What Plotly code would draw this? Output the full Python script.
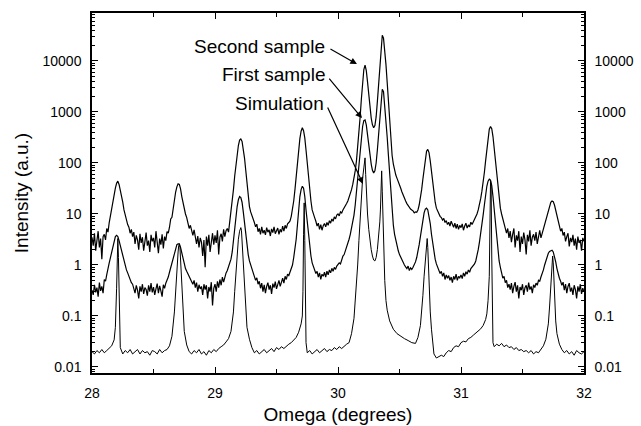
import numpy as np
import plotly.graph_objects as go

# ---------------- data ----------------
x_start = 28.0
x_step = 0.01

second_sample = [
    3.5, 2.4, 4.2, 1.9, 3.0, 4.6, 2.2, 3.3, 1.3, 3.6,          # 28.00
    4.0, 3.1, 5.2, 4.4, 6.8, 9.5, 12, 17, 24, 32,              # 28.10
    40, 44, 38, 30, 23, 17, 12, 9.5, 8.0, 6.2,                 # 28.20
    5.5, 4.2, 5.0, 3.6, 4.4, 2.6, 3.8, 3.1, 2.0, 4.1,          # 28.30
    2.7, 3.5, 1.9, 3.2, 4.3, 2.4, 3.0, 1.8, 3.9, 2.9,          # 28.40
    3.4, 2.2, 4.6, 2.8, 1.7, 3.3, 2.5, 4.0, 2.1, 3.6,          # 28.50
    3.0, 4.5, 4.2, 5.5, 8.0, 8.6, 13, 19, 27, 34,              # 28.60
    39, 38, 31, 22, 17, 12, 10, 8.5, 6.8, 5.2,                 # 28.70
    6.0, 4.4, 3.8, 4.9, 3.2, 2.6, 3.7, 2.2, 3.4, 2.8,          # 28.80
    1.5, 3.1, 0.9, 3.6, 2.4, 3.9, 1.8, 3.0, 4.2, 2.5,          # 28.90
    3.8, 2.7, 4.8, 1.6, 3.5, 4.1, 2.9, 5.0, 3.6, 4.7,          # 29.00
    5.2, 4.4, 7.0, 10, 16, 30, 55, 95, 150, 220,               # 29.10
    280, 295, 265, 195, 125, 72, 40, 22, 14, 11,               # 29.20
    9.0, 7.5, 6.8, 5.6, 6.3, 4.5, 5.2, 4.0, 5.6, 4.2,          # 29.30
    4.8, 3.9, 5.4, 4.4, 4.9, 3.7, 5.1, 4.3, 5.6, 4.1,          # 29.40
    4.7, 5.3, 4.0, 5.0, 4.4, 5.8, 4.6, 6.0, 5.2, 6.4,          # 29.50
    6.8, 7.3, 9.0, 12, 18, 30, 55, 100, 180, 300,              # 29.60
    420, 490, 430, 310, 180, 95, 50, 28, 18, 12,               # 29.70
    9.5, 8.5, 7.2, 5.8, 6.6, 5.0, 6.2, 4.8, 5.9, 6.5,          # 29.80
    5.6, 6.8, 6.0, 7.4, 6.6, 8.0, 7.2, 8.8, 8.0, 9.5,          # 29.90
    10, 9.2, 11, 10.5, 12, 13, 14.5, 16, 18, 21,               # 30.00
    25, 30, 38, 50, 70, 110, 200, 380, 800, 1800,              # 30.10
    3800, 6800, 8300, 6500, 3900, 2100, 1200, 760, 560, 490,   # 30.20
    540, 800, 1600, 3800, 9000, 20000, 32000, 28000, 17000, 8500,  # 30.30
    3800, 1500, 600, 260, 140, 95, 72, 58, 50, 44,             # 30.40
    38, 32, 27, 23, 20, 18, 16, 14.5, 13, 12.5,                # 30.50
    12, 11.5, 10.5, 11, 10.8, 12, 15, 20, 30, 48,              # 30.60
    75, 120, 170, 185, 160, 110, 65, 38, 24, 17,               # 30.70
    13, 11.5, 10, 9.0, 8.5, 7.6, 8.2, 6.8, 7.4, 6.2,           # 30.80
    6.9, 5.8, 7.2, 6.0, 5.5, 6.6, 5.2, 6.3, 5.0, 6.0,          # 30.90
    5.4, 6.4, 4.8, 5.8, 6.6, 5.3, 6.1, 5.6, 6.9, 6.2,          # 31.00
    7.0, 7.8, 8.4, 10, 12, 15, 20, 28, 40, 65,                 # 31.10
    110, 190, 330, 460, 520, 470, 330, 190, 100, 55,           # 31.20
    30, 18, 13, 10, 8.0, 6.4, 5.5, 4.2, 5.2, 3.4,              # 31.30
    4.6, 2.8, 4.0, 5.2, 2.2, 3.8, 3.0, 4.6, 1.8, 3.6,          # 31.40
    2.6, 4.3, 3.1, 1.6, 3.9, 2.9, 4.8, 2.4, 3.5, 4.0,          # 31.50
    3.0, 4.4, 2.6, 3.7, 4.8, 3.4, 4.2, 5.0, 6.0, 8.0,          # 31.60
    10, 12.5, 15, 17, 18, 17.5, 15, 12, 9.0, 7.0,              # 31.70
    5.8, 4.6, 5.2, 3.8, 4.4, 2.9, 3.6, 4.2, 2.3, 3.4,          # 31.80
    2.8, 3.9, 2.4, 3.3, 2.0, 3.6, 2.7, 3.1, 1.9, 3.4,          # 31.90
    2.9,                                                       # 32.00
]

first_sample = [
    0.32, 0.26, 0.41, 0.29, 0.36, 0.24, 0.45, 0.31, 0.38, 0.28,   # 28.00
    0.52, 0.48, 0.65, 0.8, 1.1, 1.4, 1.8, 2.5, 3.1, 3.6,          # 28.10
    3.8, 3.6, 3.0, 2.4, 1.8, 1.5, 1.1, 0.95, 0.8, 0.7,            # 28.20
    0.6, 0.52, 0.45, 0.42, 0.35, 0.28, 0.4, 0.32, 0.22, 0.38,     # 28.30
    0.3, 0.42, 0.27, 0.36, 0.33, 0.25, 0.4, 0.3, 0.44, 0.29,      # 28.40
    0.37, 0.26, 0.34, 0.43, 0.28, 0.39, 0.31, 0.24, 0.41, 0.35,   # 28.50
    0.44, 0.5, 0.58, 0.72, 0.9, 1.1, 1.4, 1.8, 2.2, 2.5,          # 28.60
    2.6, 2.6, 2.2, 1.7, 1.3, 1.0, 0.85, 0.75, 0.66, 0.6,          # 28.70
    0.55, 0.48, 0.42, 0.5, 0.36, 0.45, 0.3, 0.41, 0.34, 0.38,     # 28.80
    0.26, 0.42, 0.33, 0.4, 0.22, 0.37, 0.3, 0.46, 0.16, 0.35,     # 28.90
    0.42, 0.3, 0.48, 0.36, 0.52, 0.4, 0.58, 0.46, 0.62, 0.7,      # 29.00
    0.78, 0.9, 1.05, 1.3, 1.8, 3.2, 5.5, 9.0, 14, 19,             # 29.10
    22, 21, 17, 11, 6.5, 3.8, 2.3, 1.6, 1.2, 1.0,                 # 29.20
    0.85, 0.7, 0.62, 0.5, 0.56, 0.42, 0.48, 0.35, 0.44, 0.3,      # 29.30
    0.41, 0.28, 0.38, 0.45, 0.33, 0.4, 0.27, 0.43, 0.36, 0.47,    # 29.40
    0.34, 0.42, 0.5, 0.38, 0.46, 0.55, 0.44, 0.6, 0.52, 0.66,     # 29.50
    0.62, 0.75, 0.85, 1.0, 1.4, 2.0, 3.2, 6.0, 12, 22,            # 29.60
    30, 35, 32, 22, 12, 6.5, 3.6, 2.2, 1.5, 1.1,                  # 29.70
    0.95, 0.8, 0.68, 0.75, 0.58, 0.7, 0.52, 0.66, 0.6, 0.72,      # 29.80
    0.58, 0.76, 0.64, 0.8, 0.7, 0.86, 0.75, 0.9, 0.82, 0.95,      # 29.90
    1.0, 1.1, 1.05, 1.3, 1.5, 1.6, 1.9, 2.1, 2.6, 3.2,            # 30.00
    4.0, 5.2, 6.8, 9.5, 15, 28, 50, 85, 150, 300,                 # 30.10
    520, 680, 700, 560, 340, 200, 130, 95, 72, 64,                # 30.20
    70, 100, 180, 380, 800, 1600, 2800, 2500, 1400, 700,          # 30.30
    320, 140, 60, 22, 10, 6.0, 4.0, 3.0, 2.3, 1.9,                # 30.40
    1.6, 1.4, 1.25, 1.1, 1.0, 0.92, 0.85, 0.95, 0.78, 0.88,       # 30.50
    0.82, 0.9, 1.0, 1.15, 1.4, 1.8, 2.5, 3.6, 5.5, 8.0,           # 30.60
    10.5, 12.5, 13, 12, 9.5, 6.5, 4.0, 2.6, 1.8, 1.3,             # 30.70
    1.05, 0.9, 0.8, 0.68, 0.75, 0.6, 0.7, 0.52, 0.64, 0.55,       # 30.80
    0.62, 0.5, 0.58, 0.45, 0.6, 0.52, 0.66, 0.5, 0.6, 0.56,       # 30.90
    0.64, 0.54, 0.7, 0.6, 0.74, 0.66, 0.8, 0.72, 0.85, 0.9,       # 31.00
    0.95, 1.05, 1.2, 1.5, 2.0, 2.8, 4.0, 6.0, 9.5, 15,            # 31.10
    24, 35, 44, 48, 46, 36, 22, 12, 6.0, 3.2,                     # 31.20
    1.8, 1.2, 0.9, 0.7, 0.55, 0.6, 0.45, 0.5, 0.36, 0.42,         # 31.30
    0.33, 0.44, 0.28, 0.38, 0.46, 0.3, 0.4, 0.22, 0.37, 0.32,     # 31.40
    0.42, 0.26, 0.36, 0.4, 0.3, 0.45, 0.33, 0.38, 0.28, 0.41,     # 31.50
    0.36, 0.44, 0.4, 0.5, 0.48, 0.58, 0.66, 0.8, 1.0, 1.25,       # 31.60
    1.5, 1.7, 1.85, 1.9, 1.95, 1.8, 1.5, 1.15, 0.85, 0.65,        # 31.70
    0.55, 0.48, 0.4, 0.46, 0.32, 0.42, 0.28, 0.38, 0.44, 0.3,     # 31.80
    0.36, 0.26, 0.4, 0.33, 0.22, 0.38, 0.3, 0.42, 0.27, 0.35,     # 31.90
    0.3,                                                          # 32.00
]

sim_x = [
    28.00, 28.02, 28.04, 28.06, 28.08, 28.10, 28.12, 28.14, 28.16, 28.18, 28.19, 28.20, 28.205, 28.21, 28.215, 28.22, 28.225, 28.23,
    28.25, 28.27, 28.29, 28.31, 28.33, 28.35, 28.37, 28.39, 28.41, 28.43, 28.45, 28.47, 28.49, 28.51, 28.53, 28.55, 28.57, 28.59, 28.61,
    28.63, 28.65, 28.67, 28.68, 28.69, 28.70, 28.705, 28.71, 28.715, 28.72, 28.73, 28.74, 28.75, 28.77, 28.79,
    28.81, 28.83, 28.85, 28.87, 28.89, 28.91, 28.93, 28.95, 28.97, 28.99, 29.01, 29.03, 29.05, 29.07, 29.09, 29.11, 29.13,
    29.15, 29.16, 29.17, 29.18, 29.19, 29.20, 29.205, 29.21, 29.215, 29.22, 29.23, 29.24, 29.25, 29.26, 29.28, 29.30,
    29.32, 29.34, 29.36, 29.38, 29.40, 29.42, 29.44, 29.46, 29.48, 29.50, 29.52, 29.54, 29.56, 29.58, 29.60, 29.62, 29.64, 29.66, 29.68, 29.70,
    29.71, 29.715, 29.72, 29.725, 29.73, 29.735, 29.74, 29.75, 29.77,
    29.79, 29.81, 29.83, 29.85, 29.87, 29.89, 29.91, 29.93, 29.95, 29.97, 29.99, 30.01, 30.03, 30.05, 30.07, 30.09, 30.11, 30.13,
    30.14, 30.15, 30.16, 30.17, 30.18, 30.19, 30.20, 30.21, 30.215, 30.22, 30.225, 30.23, 30.24, 30.25, 30.26, 30.27, 30.28, 30.29, 30.30,
    30.31, 30.32, 30.33, 30.34, 30.345, 30.35, 30.355, 30.36, 30.365, 30.37, 30.38, 30.39, 30.40, 30.42,
    30.45, 30.48, 30.51, 30.54, 30.57, 30.60, 30.63, 30.65, 30.67, 30.68, 30.69, 30.70, 30.71, 30.72, 30.725, 30.73, 30.735, 30.74, 30.75, 30.76, 30.77, 30.78,
    30.80, 30.82, 30.84, 30.86, 30.88, 30.90, 30.92, 30.94, 30.96, 30.98, 31.00, 31.02, 31.04, 31.06, 31.08, 31.10, 31.12, 31.14, 31.16, 31.18, 31.20,
    31.21, 31.22, 31.23, 31.235, 31.24, 31.245, 31.25, 31.255, 31.26, 31.27,
    31.29, 31.31, 31.33, 31.35, 31.37, 31.39, 31.41, 31.43, 31.45, 31.47, 31.49, 31.51, 31.53, 31.55, 31.57, 31.59, 31.61, 31.63, 31.65, 31.67, 31.69,
    31.71, 31.72, 31.73, 31.74, 31.745, 31.75, 31.755, 31.76, 31.77, 31.78, 31.80,
    31.82, 31.84, 31.86, 31.88, 31.90, 31.92, 31.94, 31.96, 31.98, 32.00,
]

sim_y = [
    0.020, 0.018, 0.021, 0.019, 0.022, 0.019, 0.021, 0.023, 0.026, 0.034, 0.06, 0.35, 1.8, 3.3, 1.4, 0.15, 0.04, 0.024,
    0.018, 0.021, 0.019, 0.022, 0.018, 0.020, 0.022, 0.018, 0.021, 0.019, 0.020, 0.017, 0.021, 0.020, 0.018, 0.022, 0.019, 0.021, 0.022,
    0.026, 0.04, 0.12, 0.35, 0.9, 1.8, 2.4, 2.6, 2.2, 1.2, 0.4, 0.12, 0.05, 0.027, 0.020,
    0.018, 0.021, 0.019, 0.022, 0.018, 0.020, 0.017, 0.021, 0.019, 0.022, 0.020, 0.023, 0.025, 0.027, 0.031, 0.036, 0.05,
    0.12, 0.3, 0.8, 1.8, 3.2, 4.6, 5.2, 5.4, 4.8, 3.0, 1.0, 0.35, 0.12, 0.06, 0.035, 0.024,
    0.019, 0.021, 0.018, 0.020, 0.022, 0.019, 0.021, 0.023, 0.020, 0.024, 0.022, 0.025, 0.023, 0.026, 0.028, 0.03, 0.034, 0.038, 0.048, 0.07,
    0.1, 0.3, 4.0, 16.5, 3.0, 0.1, 0.03, 0.019, 0.021,
    0.018, 0.020, 0.022, 0.019, 0.021, 0.023, 0.020, 0.022, 0.021, 0.024, 0.022, 0.025, 0.023, 0.026, 0.028, 0.03, 0.045, 0.09,
    0.18, 0.45, 1.0, 3.0, 9.0, 25, 50, 80, 110, 126, 60, 25, 10, 5.0, 2.9, 2.0, 1.5, 1.25, 1.2,
    1.4, 2.0, 3.5, 7.0, 12, 30, 70, 28, 9, 2.5, 0.5, 0.2, 0.13, 0.08,
    0.055, 0.045, 0.04, 0.036, 0.033, 0.03, 0.029, 0.038, 0.065, 0.11, 0.25, 0.6, 1.1, 1.8, 3.3, 2.2, 0.9, 0.35, 0.12, 0.055, 0.028, 0.018,
    0.015, 0.016, 0.017, 0.016, 0.019, 0.021, 0.02, 0.024, 0.026, 0.025, 0.03, 0.032, 0.031, 0.036, 0.038, 0.042, 0.046, 0.05, 0.056, 0.065, 0.085,
    0.11, 0.2, 0.6, 5.0, 45, 35, 1.5, 0.08, 0.03, 0.025,
    0.028, 0.026, 0.029, 0.025, 0.027, 0.024, 0.025, 0.022, 0.024, 0.021, 0.022, 0.020, 0.021, 0.019, 0.021, 0.018, 0.020, 0.019, 0.022, 0.026, 0.035,
    0.07, 0.15, 0.4, 1.0, 1.5, 1.1, 0.5, 0.2, 0.08, 0.045, 0.028,
    0.022, 0.019, 0.021, 0.018, 0.020, 0.017, 0.021, 0.019, 0.018, 0.020,
]

y_tick_values = [0.01, 0.1, 1, 10, 100, 1000, 10000]
y_tick_labels = ["0.01", "0.1", "1", "10", "100", "1000", "10000"]
x_tick_values = [28, 29, 30, 31, 32]
x_tick_labels = ["28", "29", "30", "31", "32"]

labels = ["Second sample", "First sample", "Simulation"]

# ---------------- figure ----------------
n = len(second_sample)
x_grid = np.round(x_start + x_step * np.arange(n), 2)

FONT = "Liberation Sans, Arial, Helvetica, sans-serif"
fig = go.Figure()
fig.add_trace(go.Scatter(x=sim_x, y=sim_y, mode="lines",
                         line=dict(color="black", width=1), hoverinfo="skip"))
fig.add_trace(go.Scatter(x=x_grid, y=first_sample, mode="lines",
                         line=dict(color="black", width=1.2), hoverinfo="skip"))
fig.add_trace(go.Scatter(x=x_grid, y=second_sample, mode="lines",
                         line=dict(color="black", width=1.2), hoverinfo="skip"))
# invisible trace so the right-hand axis is drawn
fig.add_trace(go.Scatter(x=[x_grid[0]], y=[second_sample[0]], yaxis="y2", mode="markers",
                         marker=dict(opacity=0), hoverinfo="skip"))

yr = [-2.118, 4.941]
minor_vals = [m * 10.0 ** k for k in range(-3, 5) for m in range(2, 10)]
common_y = dict(type="log", range=yr, tickvals=y_tick_values, ticktext=y_tick_labels,
                ticks="inside", ticklen=6, tickwidth=1.2, tickcolor="black",
                showline=True, linecolor="black", linewidth=1.5, showgrid=False, zeroline=False,
                tickfont=dict(size=14, color="black", family=FONT),
                minor=dict(ticks="inside", ticklen=3, tickwidth=1, tickcolor="black", showgrid=False,
                           tickvals=minor_vals),
                ticklabelstandoff=6, automargin=False)

fig.update_layout(
    width=641, height=426,
    margin=dict(l=92, r=57, t=13, b=53),
    paper_bgcolor="white", plot_bgcolor="white",
    showlegend=False,
    font=dict(family=FONT, color="black"),
    xaxis=dict(range=[28, 32], tickvals=x_tick_values, ticktext=x_tick_labels,
               ticks="inside", ticklen=6, tickwidth=1.2, tickcolor="black",
               showline=True, linecolor="black", linewidth=1.5, mirror="ticks",
               showgrid=False, zeroline=False, automargin=False,
               minor=dict(ticks="inside", ticklen=4, tickwidth=1.2, tickcolor="black",
                          tickvals=[28.5, 29.5, 30.5, 31.5], showgrid=False),
               tickfont=dict(size=14, color="black", family=FONT),
               ticklabelstandoff=6,
               title=dict(text="Omega (degrees)", font=dict(size=19, family=FONT), standoff=8)),
    yaxis=dict(**common_y, mirror=True,
               title=dict(text="Intensity (a.u.)", font=dict(size=19, family=FONT), standoff=9)),
    yaxis2=dict(**common_y, overlaying="y", side="right"),
)

# text labels (right aligned) and arrows
text_pos = [(29.91, 4.29), (29.91, 3.74), (29.90, 3.16)]
tips = [(30.154, 3.94), (30.195, 2.88), (30.203, 1.59)]
offsets = [(-28, -16), (-34, -41), (-36, -78)]
for lab, (tx, ty) in zip(labels, text_pos):
    fig.add_annotation(x=tx, y=ty, xref="x", yref="y", text=lab, showarrow=False,
                       xanchor="right", yanchor="middle", font=dict(size=19, family=FONT, color="black"))
for (px, py), (ax, ay) in zip(tips, offsets):
    fig.add_annotation(x=px, y=py, xref="x", yref="y", text="", showarrow=True,
                       ax=ax, ay=ay, arrowhead=2, arrowsize=1.1, arrowwidth=1.2, arrowcolor="black",
                       standoff=0, startstandoff=0)

fig.write_html("out.html", config={"displayModeBar": False},
               post_script="document.body.style.margin='0';")
